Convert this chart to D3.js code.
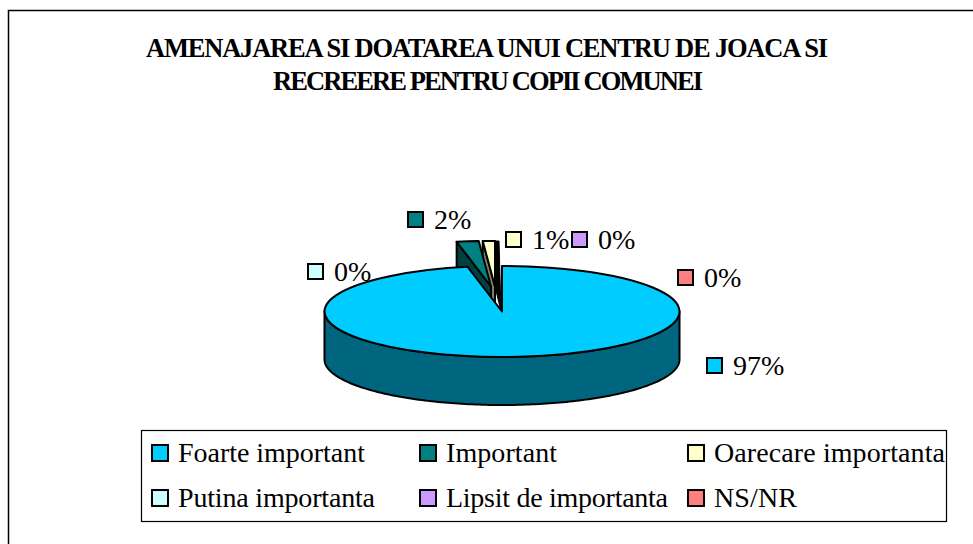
<!DOCTYPE html>
<html><head><meta charset="utf-8">
<script src="https://cdn.jsdelivr.net/npm/d3@7/dist/d3.min.js"></script>
<style>html,body{margin:0;padding:0;background:#fff}svg{display:block}text{font-family:"Liberation Serif",serif;fill:#000}</style>
</head><body><svg id="c" width="973" height="544"></svg>
<script>
const titleLines = ["AMENAJAREA SI DOATAREA UNUI CENTRU DE JOACA SI", "RECREERE PENTRU COPII COMUNEI"];
const categories = ["Foarte important", "Important", "Oarecare importanta", "Putina importanta", "Lipsit de importanta", "NS/NR"];
const values = [96.9, 2, 1.1, 0, 0, 0];
const topColors = ["#00CCFF", "#008080", "#FFFFCC", "#CCFFFF", "#CC99FF", "#FF8080"];
const sideColors = ["#006680", "#004040", "#808066", "#668080", "#665280", "#804040"];

// layout
const cx = 502, cy = 311.5, rx = 177.5, ry = 45.5, depth = 48;
const wedgeOffset = [[0,0],[-11,-25],[-7,-25],[0,0],[0,0],[0,0]];
const labelPos = [[707,358],[408,212],[506,232],[308,264],[572,232],[678,270]];
const titlePos = [[146,828,57],[273,703,90]];
const legendCols = [151,419,687], legendRows = [445,490];
const legendWidths = [187,111,231,197,222,83];

const svg = d3.select("#c");
svg.append("rect").attr("x",8.5).attr("y",10.5).attr("width",975).attr("height",560).attr("fill","#fff").attr("stroke","#000").attr("stroke-width",1.5);

titleLines.forEach((t,i)=>{
  const [x0,x1,y] = titlePos[i];
  svg.append("text").attr("x",x0).attr("y",y).attr("font-size",26.5).attr("font-weight","bold")
    .attr("textLength",x1-x0).attr("lengthAdjust","spacing").text(t);
});

const pie = d3.pie().value(d=>d).sort(null)(values);
const arc = d3.arc().innerRadius(0).outerRadius(rx);
const px = a => rx*Math.sin(a);
const py = a => -ry*Math.cos(a);

const g = svg.append("g").attr("stroke","#000").attr("stroke-width",2).attr("stroke-linejoin","round");
const line = d3.line();

function face(d,i){
  if(d.endAngle-d.startAngle<=0) return;
  const [dx,dy]=wedgeOffset[i], ox=cx+dx, oy=cy+dy;
  if(dx!==0||dy!==0){
    const a=d.startAngle;
    g.append("path").attr("fill",sideColors[i]).attr("d",line([[ox,oy],[ox+px(a),oy+py(a)],[ox+px(a),oy+py(a)+depth],[ox,oy+depth]])+"Z");
    if(d.endAngle>=2*Math.PI-1e-6){
      // dark sliver left of the last wedge's closing edge, running to the pie's tip
      const e=d.endAngle;
      g.append("path").attr("fill","#000").attr("stroke-width",1)
        .attr("d",line([[ox+px(e),oy+py(e)],[ox+px(e)+4,oy+py(e)],[cx-1,cy],[ox,oy]])+"Z");
    }
  } else {
    const a0=Math.max(d.startAngle,Math.PI/2), a1=Math.min(d.endAngle,3*Math.PI/2);
    const angs=d3.range(a0,a1,0.02).concat([a1]);
    const wall=d3.area().x(a=>ox+px(a)).y0(a=>oy+py(a)).y1(a=>oy+py(a)+depth);
    g.append("path").attr("fill",sideColors[i]).attr("d",wall(angs)+"Z");
  }
  g.append("path").attr("fill",topColors[i]).attr("vector-effect","non-scaling-stroke")
    .attr("transform",`translate(${ox},${oy}) scale(1,${ry/rx})`).attr("d",arc(d));
}
[2,1,0].forEach(i=>face(pie[i],i));

const fmt = d3.format(".0%");
values.forEach((v,i)=>{
  const [x,y]=labelPos[i];
  svg.append("rect").attr("x",x).attr("y",y).attr("width",15).attr("height",15).attr("fill",topColors[i]).attr("stroke","#000").attr("stroke-width",2);
  svg.append("text").attr("x",x+26).attr("y",y+17).attr("font-size",28).text(fmt(Math.round(v)/100));
});

svg.append("rect").attr("x",141.5).attr("y",430.5).attr("width",805).attr("height",91).attr("fill","#fff").attr("stroke","#000").attr("stroke-width",1.2);
categories.forEach((c,i)=>{
  const x=legendCols[i%3], y=legendRows[Math.floor(i/3)];
  svg.append("rect").attr("x",x+1).attr("y",y).attr("width",16).attr("height",16).attr("fill",topColors[i]).attr("stroke","#000").attr("stroke-width",2);
  svg.append("text").attr("x",x+27).attr("y",y+17).attr("font-size",28)
    .attr("textLength",legendWidths[i]).attr("lengthAdjust","spacing").text(c);
});
</script></body></html>
